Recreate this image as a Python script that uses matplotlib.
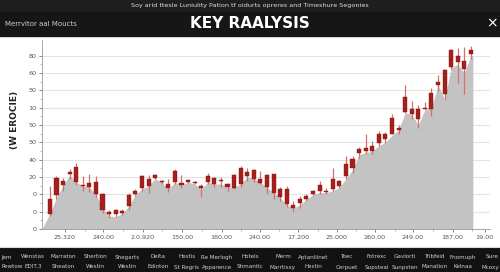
import matplotlib
matplotlib.use("Agg")
import matplotlib.pyplot as plt
from matplotlib.patches import Rectangle

# candle data: body top, body bottom, high, low (one per session)
tops = [17.3, 29.5, 27.7, 33.0, 35.8, 25.4, 26.6, 27.2, 20.2, 9.8, 11.0, 10.4, 19.7,
        22.0, 30.6, 28.9, 31.2, 27.7, 26.0, 33.5, 26.6, 28.3, 27.0, 24.9, 30.6, 29.5,
        28.3, 26.0, 31.2, 35.3, 33.0, 34.0, 28.9, 31.2, 31.8, 23.1, 23.1, 13.9, 17.3,
        19.1, 22.0, 25.4, 22.0, 28.9, 27.7, 37.6, 40.5, 46.2, 46.8, 48.0, 54.9, 54.9,
        64.2, 58.4, 76.3, 69.4, 69.4, 70.0, 78.6, 85.0, 91.9, 103.5, 100.0, 97.0, 103.5]
bottoms = [8.7, 19.7, 25.4, 31.8, 27.2, 24.9, 24.3, 20.2, 11.0, 8.7, 8.7, 9.2, 13.3,
           20.2, 23.7, 24.9, 29.5, 27.2, 23.7, 27.2, 25.4, 27.2, 26.5, 23.7, 27.2, 26.0,
           27.7, 24.3, 23.7, 26.0, 30.6, 28.9, 26.6, 24.3, 20.8, 18.5, 14.5, 12.1, 15.0,
           17.3, 20.2, 22.0, 21.4, 23.1, 24.9, 30.6, 35.3, 43.9, 45.1, 45.0, 49.7, 52.0,
           54.9, 57.2, 67.6, 66.5, 63.6, 69.4, 69.4, 83.2, 78.0, 93.6, 96.5, 92.5, 101.0]
highs = [25.0, 30.6, 29.5, 34.7, 38.0, 30.6, 31.8, 30.6, 20.5, 11.0, 11.5, 11.5, 20.8,
         23.0, 31.2, 31.2, 31.8, 28.3, 28.9, 34.7, 31.2, 29.0, 27.5, 26.0, 32.4, 30.0,
         30.0, 26.6, 31.8, 36.4, 35.3, 34.5, 33.5, 31.5, 32.0, 24.3, 24.9, 16.2, 19.1,
         20.0, 22.5, 27.7, 23.7, 35.3, 28.5, 42.2, 42.2, 47.4, 54.9, 50.9, 56.6, 56.0,
         66.5, 60.0, 83.2, 74.0, 71.7, 73.0, 81.5, 89.0, 92.0, 103.8, 104.6, 105.0, 105.8]
lows = [7.5, 17.3, 22.0, 28.9, 25.4, 22.0, 21.4, 18.5, 9.2, 6.4, 7.0, 8.0, 11.0,
        19.0, 22.0, 20.8, 29.0, 26.0, 21.4, 26.0, 23.7, 26.5, 26.0, 18.5, 26.0, 24.3,
        24.3, 22.0, 23.1, 24.3, 27.7, 27.0, 26.0, 20.2, 17.3, 16.2, 12.7, 9.8, 12.1,
        16.0, 19.5, 20.2, 20.2, 22.0, 23.5, 28.9, 32.4, 41.0, 43.4, 43.4, 48.0, 49.7,
        54.9, 55.0, 67.0, 63.6, 58.4, 69.0, 65.3, 79.8, 75.0, 92.5, 84.4, 78.0, 98.0]

# shaded volume-like background profile
area = [9, 18, 25, 31, 27, 25, 24, 20, 12, 7.5, 7, 9, 13, 20, 23,
        25, 29, 27, 23, 27, 25, 27, 26, 23, 27, 26, 26, 24, 24, 26,
        30, 29, 27, 24, 21, 18, 14, 12, 14, 17, 20, 21, 21, 22, 24,
        29, 34, 43, 44, 45, 48, 50, 54, 57, 67, 66, 60, 69, 70, 83,
        75, 93, 95, 90, 100]

xtick_pos = [2.3, 8.1, 14.1, 20.1, 26.1, 31.9, 37.7, 43.6, 49.4, 55.2, 61.2, 66.1]
xtick_labels = ["25.320", "240.00", "2.0.920", "150.00", "180.00", "240.00",
                "17.200", "25.000", "260.00", "249.00", "187.00", "19.00"]
ytick_labels = ["0", "0", "0", "20", "40", "50", "50", "10", "50", "60", "80"]

row1 = ["Jem", "Wenstas", "Marraton", "Shertion", "Shegarts", "Delta", "Hestis",
        "Re Merlogh", "Hotels", "Merm", "Aptanliinet", "Toec", "Fotrexc", "Gavlorti",
        "Tribfeid", "Fnomuph", "Sure"]
row2 = ["Pewtow", "EDIT.3", "Sheaton", "Westin", "Westin", "Edinton", "St Regris",
        "Apparence", "Shmanitc", "Marrtissy", "Hestin", "Cerpuet", "Supsteal",
        "Sunpsten", "Manation", "Kelnaa", "Mcoxy"]
col_x = [3, 33, 63, 95, 127, 158, 187, 217, 250, 283, 313, 347, 377, 405, 435, 463, 492]


def main():
    fig = plt.figure(figsize=(5, 2.72), dpi=100)
    fig.patch.set_facecolor("white")

    # dark bands
    fig.patches.append(Rectangle((0, 1 - 12 / 272), 1, 12 / 272, transform=fig.transFigure,
                                 color="#1e1e1e", zorder=0))
    fig.patches.append(Rectangle((0, 1 - 36 / 272), 1, 24 / 272, transform=fig.transFigure,
                                 color="#161616", zorder=0))
    fig.patches.append(Rectangle((0, 0), 1, 24 / 272, transform=fig.transFigure,
                                 color="#121212", zorder=0))

    fig.text(0.5, 1 - 6 / 272, "Soy arid ttesle Luniulity Pation tf oidurts opreres and Timeshure Segonies",
             color="#dddddd", fontsize=4.6, ha="center", va="center")
    fig.text(0.01, 1 - 24 / 272, "Merrvitor aal Moucts", color="#cccccc", fontsize=5,
             ha="left", va="center")
    fig.text(0.5, 1 - 23 / 272, "KEY RAALYSIS", color="white", fontsize=11,
             fontweight="bold", ha="center", va="center")
    fig.text(0.984, 1 - 23 / 272, "\u00d7", color="white", fontsize=10,
             ha="center", va="center")

    last = len(col_x) - 1
    for k, (x, t1, t2) in enumerate(zip(col_x, row1, row2)):
        if k == 0:
            px, ha = 1, "left"
        elif k == last:
            px, ha = 499, "right"
        else:
            px, ha = x, "center"
        fig.text(px / 500, 15 / 272, t1, color="#cfcfcf", fontsize=4.1, ha=ha, va="center")
        fig.text(px / 500, 5 / 272, t2, color="#cfcfcf", fontsize=4.1, ha=ha, va="center")
    fig.add_artist(plt.Line2D([0, 1], [25 / 272, 25 / 272], color="#d8d8d8", lw=0.8))

    ax = fig.add_axes([42 / 500, 43 / 272, 448 / 500, 189 / 272])
    n = len(tops)
    xs = list(range(n))

    ax.fill_between([-1.2] + xs + [64.3, 64.3], [0] + area + [area[-1], 0],
                    color="#c3c3c3", lw=0, zorder=1)

    for i in xs:
        ax.vlines(i, lows[i], highs[i], color="#d4716f", lw=0.9, zorder=2)
        ax.bar(i, max(tops[i] - bottoms[i], 0.6), bottom=bottoms[i], width=0.62,
               color="#a51f1b", edgecolor="#8e1512", lw=0.3, zorder=3)

    ax.set_xlim(-1.2, 66.9)
    ax.set_ylim(0, 109)
    ax.set_yticks(range(0, 101, 10))
    ax.set_yticklabels(ytick_labels)
    ax.set_xticks(xtick_pos)
    ax.set_xticklabels(xtick_labels)
    ax.set_yticks([v + 5 for v in range(0, 100, 10)], minor=True)
    ax.set_xticks([p + 3 for p in xtick_pos[:-1]], minor=True)
    ax.tick_params(axis="both", labelsize=4.6, colors="#555555", length=2, width=0.5, pad=2)
    ax.tick_params(which="minor", length=1.2, width=0.4, colors="#888888")
    ax.grid(axis="y", color="#e4e4e4", lw=0.8, zorder=0)
    ax.set_axisbelow(True)
    for s in ["top", "right"]:
        ax.spines[s].set_visible(False)
    for s in ["left", "bottom"]:
        ax.spines[s].set_color("#999999")
        ax.spines[s].set_linewidth(0.6)

    fig.text(15 / 500, 1 - 120 / 272, "(W EROCIE)", rotation=90, fontsize=6.5,
             fontweight="bold", color="#222222", ha="center", va="center")

    fig.savefig("out.png", dpi=100)


if __name__ == '__main__':
    main()
